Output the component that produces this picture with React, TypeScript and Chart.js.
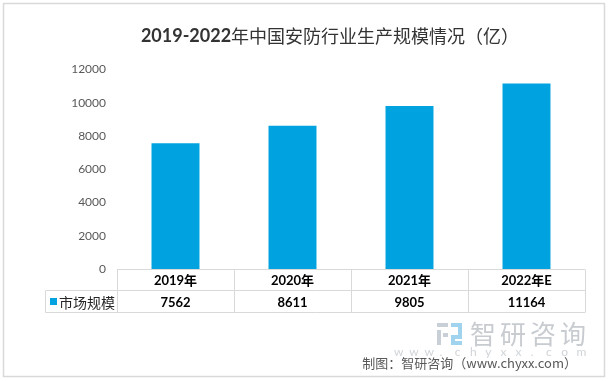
import React, { useEffect, useRef } from 'react';
import { Chart, registerables } from 'chart.js';

Chart.register(...registerables);

const categories = ['2019年', '2020年', '2021年', '2022年E'];
const marketSize = [7562, 8611, 9805, 11164];
const seriesName = '市场规模';
const titleNum = '2019-2022';
const titleText = '年中国安防行业生产规模情况（亿）';
const footerText = '制图：智研咨询（www.chyxx.com）';
const watermarkText = '智研咨询';
const watermarkUrl = 'www.chyxx.com';

const BAR_COLOR = '#00A3DF';
const LINE_COLOR = '#D9D9D9';
const LATIN = 'Lato, "Noto Sans CJK SC", sans-serif';
const CJK = '"Noto Sans CJK SC", sans-serif';

const decorPlugin = {
  id: 'decor',
  afterDraw(chart: any) {
    const ctx = chart.ctx as CanvasRenderingContext2D;
    const area = chart.chartArea;
    const xs = chart.scales.x;
    const n = categories.length;
    ctx.save();

    // outer border
    ctx.strokeStyle = LINE_COLOR;
    ctx.lineWidth = 1.5;
    ctx.strokeRect(3.5, 3.5, 601, 373);

    // title
    ctx.textBaseline = 'middle';
    ctx.fillStyle = '#333333';
    ctx.font = 'bold 18px ' + LATIN;
    const w1 = ctx.measureText(titleNum).width;
    ctx.font = '18px ' + CJK;
    const w2 = ctx.measureText(titleText).width;
    const tx = 330 - (w1 + w2) / 2;
    ctx.textAlign = 'left';
    ctx.font = 'bold 18px ' + LATIN;
    ctx.fillText(titleNum, tx, 36);
    ctx.font = '18px ' + CJK;
    ctx.fillText(titleText, tx + w1, 36);

    // data table
    const top = Math.round(area.bottom) + 0.5;
    const mid = top + 21;
    const bot = mid + 22;
    const left = area.left;
    const right = area.right;
    const legendLeft = 45.5;
    const step = (right - left) / n;
    ctx.strokeStyle = LINE_COLOR;
    ctx.lineWidth = 1;
    ctx.beginPath();
    ctx.moveTo(left, top);
    ctx.lineTo(right, top);
    ctx.moveTo(legendLeft, mid);
    ctx.lineTo(right, mid);
    ctx.moveTo(legendLeft, bot);
    ctx.lineTo(right, bot);
    for (let k = 0; k <= n; k++) {
      const x = Math.round(left + k * step) + 0.5;
      ctx.moveTo(x, top);
      ctx.lineTo(x, bot);
    }
    ctx.moveTo(legendLeft, mid);
    ctx.lineTo(legendLeft, bot);
    ctx.stroke();

    ctx.textAlign = 'center';
    ctx.fillStyle = '#000000';
    for (let i = 0; i < n; i++) {
      const cx = xs.getPixelForValue(i);
      ctx.font = 'bold 13px ' + LATIN;
      ctx.fillText(categories[i], cx, (top + mid) / 2 + 1);
      ctx.fillText(String(marketSize[i]), cx, (mid + bot) / 2 + 1);
    }
    // legend cell
    ctx.fillStyle = BAR_COLOR;
    ctx.fillRect(50, (mid + bot) / 2 - 3.5, 7, 7);
    ctx.fillStyle = '#262626';
    ctx.textAlign = 'left';
    ctx.font = '14px ' + CJK;
    ctx.fillText(seriesName, 59, (mid + bot) / 2 + 1);

    // watermark logo
    ctx.fillStyle = '#C9CFD6';
    ctx.fillRect(437, 323, 11, 4);
    ctx.fillRect(437, 330, 4, 15);
    ctx.fillRect(443, 333, 5, 4);
    ctx.fillStyle = '#9FD3EE';
    ctx.fillRect(451, 323, 11, 4);
    ctx.fillRect(458, 327, 4, 8);
    ctx.fillRect(451, 335, 11, 4);
    ctx.fillRect(451, 339, 4, 6);
    ctx.fillRect(451, 341, 11, 4);
    // watermark text
    ctx.fillStyle = '#C8CCD0';
    ctx.font = '26px ' + CJK;
    ctx.textAlign = 'left';
    const chars = watermarkText.split('');
    chars.forEach((c, i) => ctx.fillText(c, 470 + i * 30, 334));
    ctx.font = '12px ' + LATIN;
    ctx.fillStyle = '#D0D4D8';
    const urlChars = watermarkUrl.split('');
    urlChars.forEach((c, i) => ctx.fillText(c, 394 + i * 15.2, 352));

    // footer
    ctx.fillStyle = '#595959';
    ctx.font = '13px ' + CJK;
    ctx.textAlign = 'right';
    ctx.fillText(footerText, 577, 363);

    ctx.restore();
  },
};

export default function App() {
  const ref = useRef<HTMLCanvasElement>(null);
  useEffect(() => {
    if (!ref.current) return;
    const chart = new Chart(ref.current, {
      type: 'bar',
      data: {
        labels: categories,
        datasets: [
          {
            label: seriesName,
            data: marketSize,
            backgroundColor: BAR_COLOR,
            categoryPercentage: 1,
            barPercentage: 0.41,
          },
        ],
      },
      options: {
        responsive: false,
        animation: false,
        layout: { padding: { left: 0, top: 69.5, right: 24, bottom: 112 } },
        plugins: {
          legend: { display: false },
          title: { display: false },
          tooltip: { enabled: false },
        },
        scales: {
          x: { display: false },
          y: {
            min: 0,
            max: 12000,
            border: { display: false },
            grid: { display: false, drawTicks: false },
            ticks: {
              stepSize: 2000,
              padding: 11,
              color: '#595959',
              font: { family: 'Lato', size: 12 },
              callback: (v: any) => String(v),
            },
            afterFit(scale: any) {
              scale.width = 117;
            },
          },
        },
      },
      plugins: [decorPlugin],
    });
    return () => chart.destroy();
  }, []);
  return (
    <div style={{ position: 'absolute', left: 0, top: 0, width: 609, height: 381, background: '#fff' }}>
      <canvas ref={ref} width={609} height={381} style={{ display: 'block' }} />
    </div>
  );
}
